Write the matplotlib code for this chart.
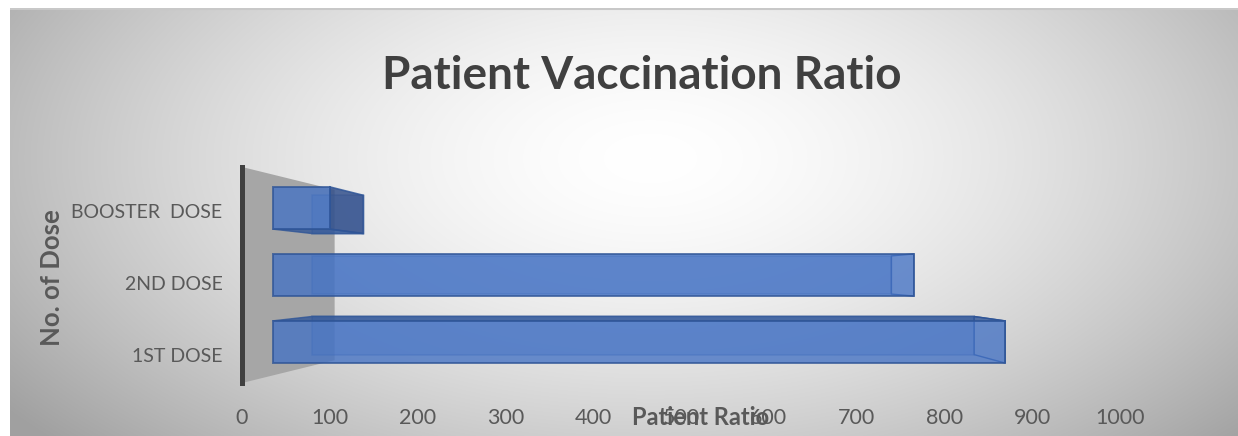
import matplotlib

matplotlib.use("Agg")
import matplotlib.pyplot as plt
import matplotlib.transforms as mtransforms
import numpy as np

W, H = 1238, 436
INK, INK2 = "#404040", "#595959"
BLUE, BLUE_DK, CAP = "#4472C4", "#2F5597", "#34518C"
WALL = "#a6a6a6"

categories = ["1ST DOSE", "2ND DOSE", "BOOSTER  DOSE"]
patients = [897, 785, 70]
xticks = [0, 100, 200, 300, 400, 500, 600, 700, 800, 900, 1000]

plt.rcParams["font.family"] = ["Lato", "DejaVu Sans"]

# perspective: every depth plane is the front plane scaled toward the vanishing point
VP = (500.0, 1.0)
S_WALL, S_FRONT, S_BACK = 0.789, 0.93, 0.841
HALF = 0.315


def proj(pts, s):
    return [(VP[0] + s * (x - VP[0]), VP[1] + s * (y - VP[1])) for x, y in pts]


fig = plt.figure(figsize=(W / 100, H / 100), dpi=100)

# radial grey background of the chart area
bg = fig.add_axes([10 / W, 0, (W - 10) / W, (H - 8) / H])
yy, xx = np.mgrid[0:H - 8, 0:W - 10]
r = np.sqrt(((xx - 640) / 640.0) ** 2 + ((yy - 150) / 340.0) ** 2)
g = 1 - 0.26 * np.clip(r, 0, 1.25) ** 1.6
bg.imshow(np.dstack([g, g, g]), aspect="auto", interpolation="bilinear")
bg.axhline(0.5, color="#c8c8c8", lw=1.5)
bg.axis("off")

ax = fig.add_axes([242 / W, (H - 383) / H, 878 / W, 216 / H])
ax.set_facecolor("none")
ax.set_xlim(0, 1000)
ax.set_ylim(-0.5, 2.5)

# side wall at value 0
wall = [(0, -0.5), (0, 2.5)]
ax.fill(*zip(*(proj(wall, 1.0) + proj(wall[::-1], S_WALL))), color=WALL, lw=0, zorder=2)

for c, v in enumerate(patients):
    y0, y1 = c - HALF, c + HALF
    rect = [(0, y0), (v, y0), (v, y1), (0, y1)]
    front, back = proj(rect, S_FRONT), proj(rect, S_BACK)
    ax.fill(*zip(*back), facecolor=BLUE, alpha=0.35, edgecolor=BLUE_DK, lw=1.2, zorder=3)
    # top / bottom face seen in perspective
    if y1 < VP[1]:
        face = [front[3], front[2], back[2], back[3]]
        ax.fill(*zip(*face), facecolor=BLUE_DK, alpha=0.8, edgecolor=BLUE_DK, lw=1.0, zorder=4)
    if y0 > VP[1]:
        face = [front[0], front[1], back[1], back[0]]
        ax.fill(*zip(*face), facecolor=BLUE_DK, alpha=0.8, edgecolor=BLUE_DK, lw=1.0, zorder=4)
    # end cap
    cap = [front[1], front[2], back[2], back[1]]
    if v < VP[0]:
        ax.fill(*zip(*cap), facecolor=CAP, alpha=0.85, edgecolor=BLUE_DK, lw=1.2, zorder=4)
    else:
        ax.fill(*zip(*cap), facecolor="none", edgecolor=BLUE_DK, lw=1.0, zorder=4)
    ax.fill(*zip(*front), facecolor=BLUE, alpha=0.78, edgecolor=BLUE_DK, lw=1.4, zorder=5)

for s in ("top", "right", "bottom"):
    ax.spines[s].set_visible(False)
ax.spines["left"].set_color(INK)
ax.spines["left"].set_linewidth(3.6)
ax.spines["left"].set_zorder(6)

ax.set_xticks(xticks)
ax.set_xticklabels([str(t) for t in xticks])
ax.tick_params(axis="x", length=0, pad=18, labelsize=15.5, labelcolor=INK2)
ax.set_yticks(range(len(categories)))
ax.set_yticklabels(categories)
ax.tick_params(axis="y", length=0, pad=14, labelsize=14, labelcolor=INK2)
shift = mtransforms.ScaledTranslation(0, -8 / 100, fig.dpi_scale_trans)
for lab in ax.get_yticklabels():
    lab.set_transform(lab.get_transform() + shift)

ax.set_xlabel("Patient Ratio", fontsize=17, fontweight="bold", color=INK2)
ax.xaxis.set_label_coords(0.522, -0.162)
ax.xaxis.label.set_va("center")
ax.set_ylabel("No. of Dose", fontsize=18.5, fontweight="bold", color=INK2)
ax.yaxis.set_label_coords(-0.216, 0.486)
ax.yaxis.label.set_va("center")

fig.text(642 / W, 1 - 89 / H, "Patient Vaccination Ratio", ha="center", va="baseline",
         fontsize=33, fontweight="bold", color=INK)

fig.savefig("out.png", dpi=100, facecolor="white")
